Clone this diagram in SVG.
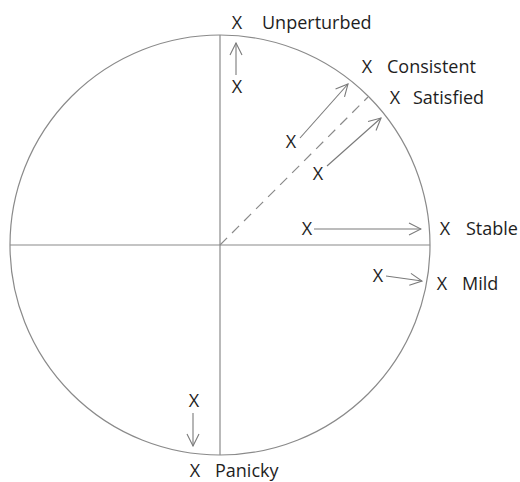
<svg xmlns="http://www.w3.org/2000/svg" width="520" height="482" viewBox="0 0 520 482">
<style>
.ln{stroke:#8a8a8a;stroke-width:1.2;fill:none}
.ar{stroke:#7a7a7a;stroke-width:1.1;fill:none;marker-end:url(#ah)}
text{font-family:"Open Sans","Noto Sans",sans-serif;font-size:18px;fill:#1e1e1e}
.m{text-anchor:middle}
</style>
<defs>
<marker id="ah" viewBox="0 0 14 14" refX="13" refY="7" markerWidth="14" markerHeight="14" markerUnits="userSpaceOnUse" orient="auto">
<polyline points="1,1 13,7 1,13" fill="none" stroke="#7a7a7a" stroke-width="1.1"/>
</marker>
</defs>
<g id="frame">
<circle class="ln" cx="220" cy="245" r="210"/>
<line class="ln" x1="10" y1="245" x2="430" y2="245"/>
<line class="ln" x1="220" y1="35" x2="220" y2="455"/>
<line class="ln" x1="220" y1="245" x2="368" y2="97" stroke-dasharray="10,7"/>
</g>
<g id="connectors">
<line class="ar" x1="236" y1="75" x2="236" y2="43"/>
<line class="ar" x1="300" y1="138" x2="348" y2="84"/>
<line class="ar" x1="327" y1="166" x2="381" y2="118"/>
<line class="ar" x1="314" y1="229" x2="421" y2="229"/>
<line class="ar" x1="386" y1="276" x2="422" y2="281"/>
<line class="ar" x1="193" y1="413" x2="193" y2="446"/>
</g>
<g id="unperturbed"><text x="237" y="29" class="m">X</text><text x="262" y="29">Unperturbed</text><text x="237" y="93" class="m">X</text></g>
<g id="consistent"><text x="367" y="73" class="m">X</text><text x="387" y="73">Consistent</text><text x="291" y="148" class="m">X</text></g>
<g id="satisfied"><text x="395" y="104" class="m">X</text><text x="413" y="104">Satisfied</text><text x="318" y="180" class="m">X</text></g>
<g id="stable"><text x="445" y="235" class="m">X</text><text x="466" y="235">Stable</text><text x="307" y="235" class="m">X</text></g>
<g id="mild"><text x="442" y="290" class="m">X</text><text x="462" y="290">Mild</text><text x="378" y="282" class="m">X</text></g>
<g id="panicky"><text x="195" y="477" class="m">X</text><text x="215" y="477">Panicky</text><text x="194" y="407" class="m">X</text></g>
</svg>
